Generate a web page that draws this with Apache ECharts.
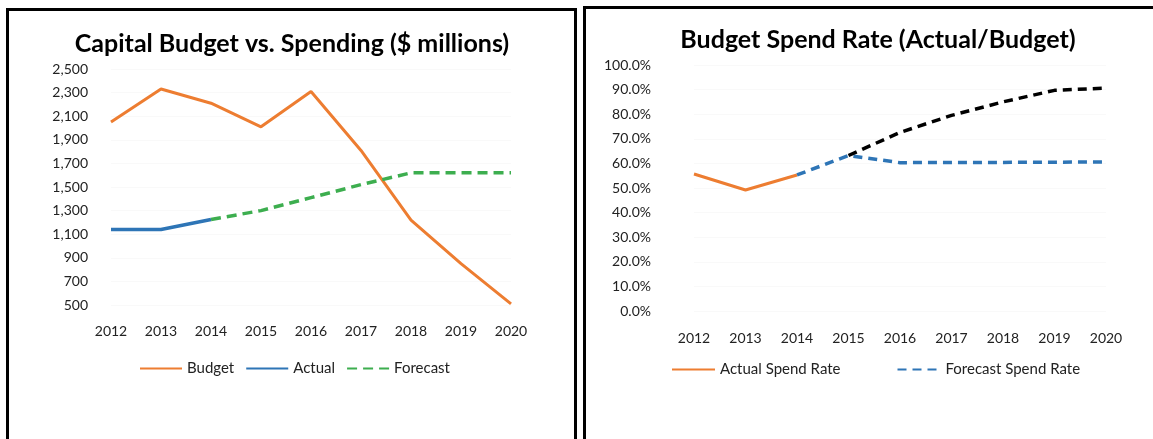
<!DOCTYPE html>
<html>
<head>
<meta charset="utf-8">
<script src="https://cdn.jsdelivr.net/npm/echarts@6/dist/echarts.min.js"></script>
<style>
html,body{margin:0;padding:0;background:#fff;}
#chart{width:1153px;height:439px;}
</style>
</head>
<body>
<div id="chart"></div>
<script>
// ---- Data ----
const years = ['2012','2013','2014','2015','2016','2017','2018','2019','2020'];
const budget = [2050, 2330, 2210, 2010, 2310, 1810, 1220, 850, 510];
const actual = [1140, 1140, 1225, null, null, null, null, null, null];
const forecast = [null, null, 1225, 1300, 1410, 1520, 1620, 1620, 1620];
const actualRate = [55.7, 49.2, 55.3, null, null, null, null, null, null];
const forecastRate = [null, null, 55.3, 63.2, 60.3, 60.4, 60.4, 60.5, 60.6];
const upperRate = [null, null, null, 63.2, 72.6, 79.5, 85.0, 89.7, 90.6];
const leftTicks = { min: 500, max: 2500, interval: 200 };
const rightTicks = { min: 0, max: 100, interval: 10 };

const FONT = 'Lato, "Open Sans", sans-serif';
const ORANGE = '#ED7D31', BLUE = '#2E75B6', GREEN = '#3DAE4F', BLACK = '#000000';

const chart = echarts.init(document.getElementById('chart'));
const axisLabelStyle = { color: '#222', fontFamily: FONT, fontSize: 14 };
const legendText = { fontFamily: FONT, fontSize: 15, color: '#222' };

chart.setOption({
  animation: false,
  backgroundColor: '#fff',
  graphic: [
    { type: 'rect', shape: { x: 7.5, y: 9.5, width: 568, height: 460 }, style: { fill: 'none', stroke: '#000', lineWidth: 3 }, z: 100 },
    { type: 'rect', shape: { x: 584.5, y: 7.5, width: 600, height: 460 }, style: { fill: 'none', stroke: '#000', lineWidth: 3 }, z: 100 }
  ],
  title: [
    { text: 'Capital Budget vs. Spending ($ millions)', left: 287, top: 26, textAlign: 'center',
      textStyle: { fontFamily: FONT, fontWeight: 'bold', fontSize: 25, color: '#000' } },
    { text: 'Budget Spend Rate (Actual/Budget)', left: 873, top: 22, textAlign: 'center',
      textStyle: { fontFamily: FONT, fontWeight: 'bold', fontSize: 25, color: '#000' } }
  ],
  legend: [
    { data: ['Budget', 'Actual', 'Forecast'], left: 134, top: 356, itemWidth: 42, itemHeight: 3, itemGap: 11,
      itemStyle: { opacity: 0 }, textStyle: legendText },
    { data: ['Actual Spend Rate', 'Forecast Spend Rate'], left: 666, top: 357, itemWidth: 43, itemHeight: 3, itemGap: 56,
      itemStyle: { opacity: 0 }, textStyle: legendText }
  ],
  grid: [
    { left: 111, top: 69, width: 400, height: 236 },
    { left: 694, top: 65, width: 412, height: 246 }
  ],
  xAxis: [
    { type: 'category', data: years, gridIndex: 0, boundaryGap: false,
      axisLine: { show: false }, axisTick: { show: false },
      axisLabel: Object.assign({ margin: 19 }, axisLabelStyle) },
    { type: 'category', data: years, gridIndex: 1, boundaryGap: false,
      axisLine: { show: false }, axisTick: { show: false },
      axisLabel: Object.assign({ margin: 20 }, axisLabelStyle) }
  ],
  yAxis: [
    { type: 'value', gridIndex: 0, min: leftTicks.min, max: leftTicks.max, interval: leftTicks.interval,
      axisLine: { show: false }, axisTick: { show: false },
      splitLine: { lineStyle: { color: '#f9f9f9' } },
      axisLabel: Object.assign({ margin: 23, formatter: v => v.toLocaleString('en-US') }, axisLabelStyle) },
    { type: 'value', gridIndex: 1, min: rightTicks.min, max: rightTicks.max, interval: rightTicks.interval,
      axisLine: { show: false }, axisTick: { show: false },
      splitLine: { lineStyle: { color: '#f9f9f9' } },
      axisLabel: Object.assign({ margin: 43, formatter: v => v.toFixed(1) + '%' }, axisLabelStyle) }
  ],
  series: [
    { name: 'Budget', type: 'line', xAxisIndex: 0, yAxisIndex: 0, data: budget, symbol: 'none',
      lineStyle: { color: ORANGE, width: 3 }, itemStyle: { color: ORANGE } },
    { name: 'Actual', type: 'line', xAxisIndex: 0, yAxisIndex: 0, data: actual, symbol: 'none',
      lineStyle: { color: BLUE, width: 3.5 }, itemStyle: { color: BLUE } },
    { name: 'Forecast', type: 'line', xAxisIndex: 0, yAxisIndex: 0, data: forecast, symbol: 'none',
      lineStyle: { color: GREEN, width: 3.5, type: [10, 6] }, itemStyle: { color: GREEN } },
    { name: 'Actual Spend Rate', type: 'line', xAxisIndex: 1, yAxisIndex: 1, data: actualRate, symbol: 'none',
      lineStyle: { color: ORANGE, width: 3 }, itemStyle: { color: ORANGE } },
    { name: 'Forecast Spend Rate', type: 'line', xAxisIndex: 1, yAxisIndex: 1, data: forecastRate, symbol: 'none',
      lineStyle: { color: BLUE, width: 3.5, type: [9, 6] }, itemStyle: { color: BLUE } },
    { name: 'Upper Spend Rate', type: 'line', xAxisIndex: 1, yAxisIndex: 1, data: upperRate, symbol: 'none',
      lineStyle: { color: BLACK, width: 3.5, type: [9, 6] }, itemStyle: { color: BLACK } }
  ]
});
</script>
</body>
</html>
